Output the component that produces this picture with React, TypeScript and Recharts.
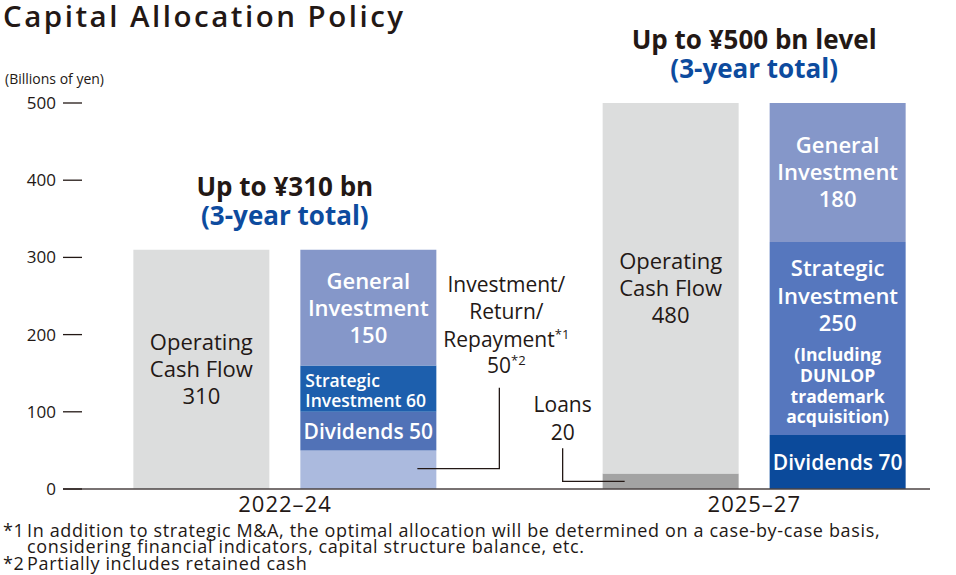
import { BarChart, Bar, XAxis, YAxis, Cell, LabelList } from "recharts";

const INK = "#231815";
const BLUE_TEXT = "#0d4b9e";
const FONT = "'Open Sans', 'Noto Sans', sans-serif";

// ─── Data ──────────────────────────────────────────────────

const periods = ["2022–24", "2025–27"];
const headlines = ["Up to ¥310 bn", "Up to ¥500 bn level"];
const operatingCashFlow = [310, 480];
const loans = [0, 20];
const repayment = [50, 0];
const dividends = [50, 70];
const strategicInvestment = [60, 250];
const generalInvestment = [150, 180];
const yTicks = [0, 100, 200, 300, 400, 500];

const dividendColors = ["#5172b7", "#0b4a9b"];
const strategicColors = ["#1d5fad", "#5677be"];

const BAR_SIZE = 136;
const BAR_GAP = 31;

const data = periods.map((period, i) => ({
  period,
  loans: loans[i],
  ocf: operatingCashFlow[i],
  repayment: repayment[i],
  dividends: dividends[i],
  strategic: strategicInvestment[i],
  general: generalInvestment[i],
}));

// ─── Axis ticks ────────────────────────────────────────────

function YTick({ x, y, payload }: any) {
  return (
    <g>
      <text x={x} y={y} dy={6} textAnchor="end" fontSize={17} fill={INK} fontFamily={FONT}>
        {payload.value}
      </text>
      <line x1={x + 7} x2={x + 26} y1={y} y2={y} stroke={INK} strokeWidth={1.3} />
    </g>
  );
}

function XTick({ x, y, payload }: any) {
  return (
    <text x={x} y={y} dy={23} textAnchor="middle" fontSize={22} letterSpacing={1} fill={INK} fontFamily={FONT}>
      {payload.value}
    </text>
  );
}

// ─── Segment labels ────────────────────────────────────────

function Lines({ cx, ys, lines, size, fill, weight = 500, anchor = "middle" }: any) {
  return (
    <g fontFamily={FONT} fontSize={size} fill={fill} fontWeight={weight} textAnchor={anchor}>
      {lines.map((l: any, i: number) => (
        <text key={i} x={cx} y={ys[i]}>
          {l}
        </text>
      ))}
    </g>
  );
}

function OcfLabel({ x, y, width, height, value, index }: any) {
  if (!value) return null;
  const cx = x + width / 2;
  const cy = y + height / 2;
  // headline sits centred over the whole period group
  const groupX = x + width + BAR_GAP / 2;
  return (
    <g>
      <Lines cx={groupX} ys={[y - 54]} lines={[headlines[index]]} size={26} fill={INK} weight={700} />
      <Lines cx={groupX} ys={[y - 25]} lines={["(3-year total)"]} size={26} fill={BLUE_TEXT} weight={700} />
      <Lines cx={cx} ys={[cy - 19, cy + 8, cy + 35]} lines={["Operating", "Cash Flow", value]} size={22} fill={INK} />
    </g>
  );
}

function GeneralLabel({ x, y, width, height, value }: any) {
  const cx = x + width / 2;
  const cy = y + height / 2;
  return (
    <Lines
      cx={cx}
      ys={[cy - 19, cy + 8, cy + 35]}
      lines={["General", "Investment", value]}
      size={22}
      fill="#fff"
      weight={600}
    />
  );
}

function StrategicLabel({ x, y, width, height, value, index }: any) {
  const cx = x + width / 2;
  const cy = y + height / 2;
  if (index === 0) {
    return (
      <Lines
        cx={x + 5}
        ys={[cy - 2, cy + 18]}
        lines={["Strategic", `Investment ${value}`]}
        size={17.5}
        fill="#fff"
        weight={600}
        anchor="start"
      />
    );
  }
  return (
    <g>
      <Lines
        cx={cx}
        ys={[cy - 62, cy - 34, cy - 7]}
        lines={["Strategic", "Investment", value]}
        size={22}
        fill="#fff"
        weight={600}
      />
      <Lines
        cx={cx}
        ys={[cy + 23, cy + 44, cy + 65, cy + 85]}
        lines={["(Including", "DUNLOP", "trademark", "acquisition)"]}
        size={17.5}
        fill="#fff"
        weight={700}
      />
    </g>
  );
}

function DividendLabel({ x, y, width, height, value }: any) {
  const cx = x + width / 2;
  const cy = y + height / 2;
  return <Lines cx={cx} ys={[cy + 8]} lines={[`Dividends ${value}`]} size={21} fill="#fff" weight={600} />;
}

function RepaymentLabel({ x, y, height, value }: any) {
  if (!value) return null;
  const cy = y + height / 2;
  const lineX = x + 199;
  const cx = x + 206;
  return (
    <g>
      <polyline
        points={`${x + 117},${cy - 1} ${lineX},${cy - 1} ${lineX},${cy - 82}`}
        fill="none"
        stroke={INK}
        strokeWidth={1.3}
      />
      <g fontFamily={FONT} fontSize={21} fill={INK} fontWeight={500} textAnchor="middle">
        <text x={cx} y={cy - 178}>Investment/</text>
        <text x={cx} y={cy - 151}>Return/</text>
        <text x={cx} y={cy - 123}>
          Repayment
          <tspan fontSize={13} dy={-8}>*1</tspan>
        </text>
        <text x={cx} y={cy - 97}>
          {value}
          <tspan fontSize={13} dy={-8}>*2</tspan>
        </text>
      </g>
    </g>
  );
}

function LoansLabel({ x, y, height, value }: any) {
  if (!value) return null;
  const cy = y + height / 2;
  const lineX = x - 40;
  return (
    <g>
      <polyline
        points={`${x + 22},${cy} ${lineX},${cy} ${lineX},${cy - 33}`}
        fill="none"
        stroke={INK}
        strokeWidth={1.3}
      />
      <Lines cx={lineX} ys={[cy - 69, cy - 41]} lines={["Loans", value]} size={21} fill={INK} />
    </g>
  );
}

// ─── Chart ─────────────────────────────────────────────────

export default function App() {
  return (
    <div
      style={{
        position: "absolute",
        left: 0,
        top: 0,
        width: 956,
        height: 575,
        overflow: "hidden",
        background: "#fff",
      }}
    >
      <BarChart
        width={956}
        height={575}
        data={data}
        margin={{ top: 103, right: 26, bottom: 56, left: 0 }}
        barGap={BAR_GAP}
        barSize={BAR_SIZE}
      >
        <XAxis
          dataKey="period"
          height={30}
          padding={{ left: -12.65, right: -58.95 }}
          tickLine={false}
          tickSize={0}
          tickMargin={0}
          axisLine={{ stroke: "#4b4343", strokeWidth: 1.5 }}
          tick={<XTick />}
        />
        <YAxis
          width={63}
          domain={[0, 500]}
          ticks={yTicks}
          axisLine={false}
          tickLine={false}
          tickSize={0}
          tickMargin={7}
          tick={<YTick />}
        />
        <Bar dataKey="loans" stackId="source" fill="#a3a3a3" isAnimationActive={false}>
          <LabelList dataKey="loans" content={<LoansLabel />} />
        </Bar>
        <Bar dataKey="ocf" stackId="source" fill="#dcdddd" isAnimationActive={false}>
          <LabelList dataKey="ocf" content={<OcfLabel />} />
        </Bar>
        <Bar dataKey="repayment" stackId="use" fill="#abbade" isAnimationActive={false}>
          <LabelList dataKey="repayment" content={<RepaymentLabel />} />
        </Bar>
        <Bar dataKey="dividends" stackId="use" isAnimationActive={false}>
          {data.map((_, i) => (
            <Cell key={i} fill={dividendColors[i]} />
          ))}
          <LabelList dataKey="dividends" content={<DividendLabel />} />
        </Bar>
        <Bar dataKey="strategic" stackId="use" isAnimationActive={false}>
          {data.map((_, i) => (
            <Cell key={i} fill={strategicColors[i]} />
          ))}
          <LabelList dataKey="strategic" content={<StrategicLabel />} />
        </Bar>
        <Bar dataKey="general" stackId="use" fill="#8597c9" isAnimationActive={false}>
          <LabelList dataKey="general" content={<GeneralLabel />} />
        </Bar>
      </BarChart>

      <svg
        width={956}
        height={575}
        style={{ position: "absolute", left: 0, top: 0, pointerEvents: "none" }}
        fontFamily={FONT}
        fill={INK}
      >
        <text x={3} y={27} fontSize={29.5} fontWeight={600} letterSpacing={2.5}>
          Capital Allocation Policy
        </text>
        <text x={5} y={84} fontSize={14}>
          (Billions of yen)
        </text>
        <g fontSize={18} letterSpacing={0.65}>
          <text x={3} y={537}>*1</text>
          <text x={27} y={537}>
            In addition to strategic M&amp;A, the optimal allocation will be determined on a case-by-case basis,
          </text>
          <text x={27} y={553}>considering financial indicators, capital structure balance, etc.</text>
          <text x={3} y={570}>*2</text>
          <text x={27} y={570}>Partially includes retained cash</text>
        </g>
      </svg>
    </div>
  );
}
